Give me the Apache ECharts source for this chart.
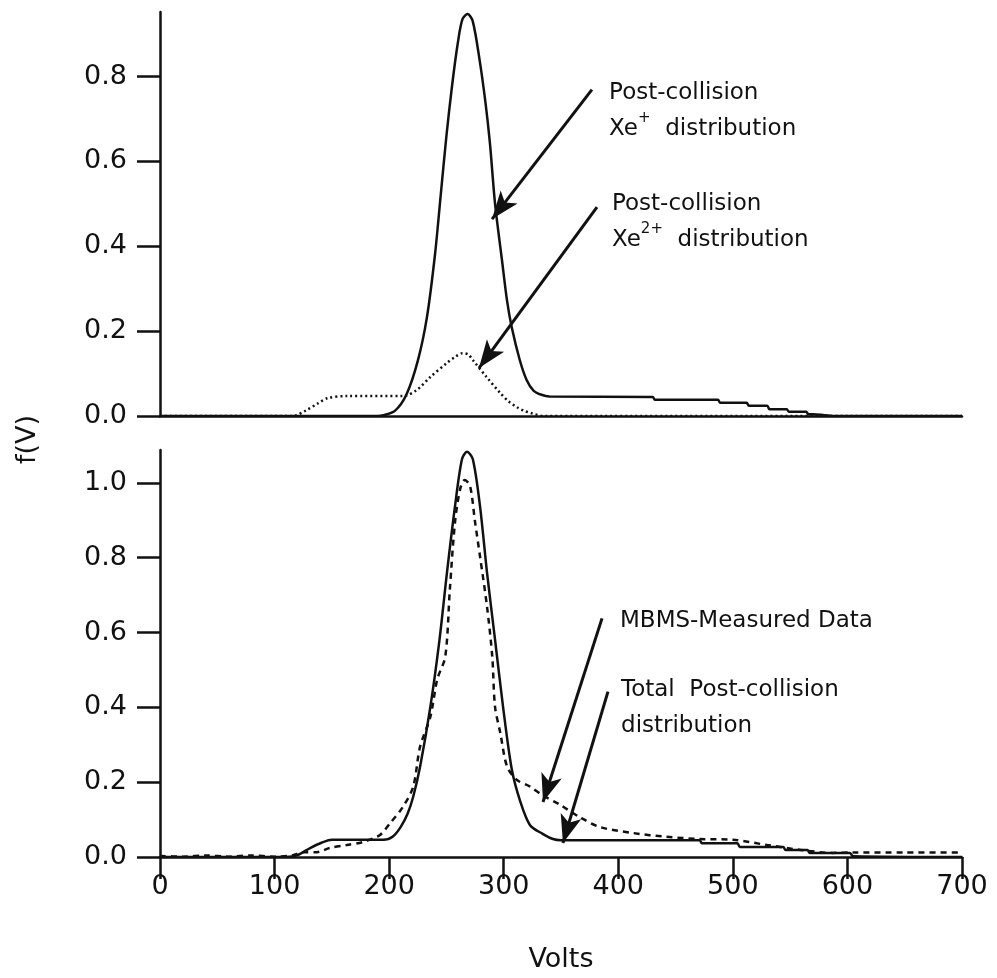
<!DOCTYPE html>
<html>
<head>
<meta charset="utf-8">
<script src="https://cdn.jsdelivr.net/npm/echarts@6/dist/echarts.min.js"></script>
<style>
html, body { margin: 0; background: #fff; }
#chart { width: 997px; height: 978px; }
</style>
</head>
<body>
<div id="chart"></div>
<script>
// top panel: post-collision Xe+ (solid) and Xe2+ (dotted)
const xePlusV = [0, 100, 190, 195, 205, 215, 225, 233, 240, 245, 250, 255, 260, 264, 268.5, 273, 279, 284, 288, 292.4, 298.5, 303, 307, 314, 320, 326, 333, 340, 430, 432, 487, 489, 512, 514, 530, 532, 547, 549, 564, 566, 570, 580, 590, 700]
const xePlusF = [0, 0, 0, 0.002, 0.012, 0.05, 0.13, 0.233, 0.38, 0.52, 0.66, 0.78, 0.88, 0.935, 0.947, 0.93, 0.838, 0.74, 0.642, 0.501, 0.367, 0.27, 0.209, 0.132, 0.085, 0.06, 0.05, 0.046, 0.045, 0.038, 0.038, 0.031, 0.031, 0.024, 0.024, 0.016, 0.016, 0.01, 0.01, 0.004, 0.004, 0.002, 0, 0]
const xe2PlusV = [0, 116, 128, 138, 146, 163, 212, 224, 236, 250, 258, 264, 269, 273, 285, 297, 304, 312, 318, 325, 335, 700]
const xe2PlusF = [0, 0, 0.014, 0.03, 0.042, 0.047, 0.047, 0.061, 0.092, 0.124, 0.14, 0.148, 0.145, 0.132, 0.092, 0.054, 0.035, 0.02, 0.012, 0.006, 0, 0]

// bottom panel: total post-collision (solid) and MBMS-measured (dashed)
const totalV = [0, 110, 120, 131, 141, 150, 195, 203, 210, 216, 221, 227, 236, 244, 250.5, 257.5, 263.6, 268, 273, 279.3, 285.4, 292.4, 299.4, 307, 314, 323, 334, 343, 350, 471, 473, 504, 506, 544, 546, 565, 567, 602, 605, 700]
const totalF = [0, 0, 0.005, 0.024, 0.038, 0.046, 0.046, 0.054, 0.08, 0.115, 0.161, 0.241, 0.402, 0.582, 0.761, 0.938, 1.064, 1.083, 1.064, 0.938, 0.761, 0.582, 0.402, 0.235, 0.153, 0.085, 0.062, 0.048, 0.045, 0.045, 0.037, 0.037, 0.027, 0.027, 0.019, 0.019, 0.011, 0.011, 0.002, 0]
const mbmsV = [0, 20, 40, 60, 80, 100, 115, 125, 137, 148, 163, 177, 192, 201, 212, 221, 227, 236, 242, 249, 253, 257.5, 262, 266, 270.6, 275, 279.3, 285.4, 290, 292.4, 297, 303, 311.6, 323, 334, 349, 366, 384, 413, 442, 471, 500, 530, 559, 587, 605, 650, 700]
const mbmsF = [0.003, 0.001, 0.004, 0.001, 0.004, 0.001, 0.004, 0.013, 0.013, 0.024, 0.032, 0.04, 0.059, 0.091, 0.134, 0.188, 0.295, 0.375, 0.475, 0.536, 0.716, 0.895, 0.984, 1.008, 0.992, 0.895, 0.804, 0.67, 0.536, 0.402, 0.332, 0.241, 0.206, 0.188, 0.165, 0.14, 0.107, 0.08, 0.064, 0.054, 0.048, 0.046, 0.032, 0.019, 0.011, 0.012, 0.012, 0.012]

const xTicks = [0, 100, 200, 300, 400, 500, 600, 700]
const topYTicks = [0, 0.2, 0.4, 0.6, 0.8]
const bottomYTicks = [0, 0.2, 0.4, 0.6, 0.8, 1.0]

const FONT = 'DejaVu Sans'
const INK = '#111'

const pairs = (xs, ys) => xs.map((x, i) => [x, ys[i]])

// arrows: [from, to] in data coords
const arrow = (from, to) => [{ coord: from }, { coord: to }]
const arrowStyle = {
  silent: true,
  symbol: ['none', 'arrow'],
  symbolSize: [16, 28],
  label: { show: false },
  lineStyle: { color: INK, width: 3, type: 'solid' },
  emphasis: { disabled: true }
}
const note = (coord, text) => ({
  coord: coord,
  symbol: 'circle',
  symbolSize: 0,
  label: {
    show: true,
    position: 'right',
    distance: 0,
    formatter: text,
    color: INK,
    fontFamily: FONT,
    fontSize: 23,
    lineHeight: 36,
    rich: {
      sup: { fontSize: 15, fontFamily: FONT, color: INK, verticalAlign: 'top', lineHeight: 36 }
    }
  }
})

const yAxisBase = {
  type: 'value',
  min: 0,
  axisLine: { show: true, lineStyle: { color: INK, width: 2.5 } },
  axisTick: { show: true, length: 23, lineStyle: { color: INK, width: 2.5 } },
  axisLabel: { color: INK, fontFamily: FONT, fontSize: 27, margin: 33, formatter: v => v.toFixed(1) },
  splitLine: { show: false }
}

const lineBase = { type: 'line', showSymbol: false, smooth: 0.3 }

const chart = echarts.init(document.getElementById('chart'))
chart.setOption({
  animation: false,
  backgroundColor: '#fff',
  grid: [
    { left: 160, right: 35, top: 12, height: 404 },
    { left: 160, right: 35, top: 450, height: 407 }
  ],
  xAxis: [
    {
      gridIndex: 0, type: 'value', min: 0, max: 700, interval: 100,
      axisLine: { show: true, onZero: false, lineStyle: { color: INK, width: 2.5 } },
      axisTick: { show: false },
      axisLabel: { show: false },
      splitLine: { show: false }
    },
    {
      gridIndex: 1, type: 'value', min: 0, max: 700, interval: 100,
      name: 'Volts', nameLocation: 'middle', nameGap: 89,
      nameTextStyle: { color: INK, fontFamily: FONT, fontSize: 27 },
      axisLine: { show: true, onZero: false, lineStyle: { color: INK, width: 2.5 } },
      axisTick: { show: true, length: 22, customValues: xTicks, lineStyle: { color: INK, width: 2.5 } },
      axisLabel: { color: INK, fontFamily: FONT, fontSize: 27, margin: 16, customValues: xTicks },
      splitLine: { show: false }
    }
  ],
  yAxis: [
    Object.assign({}, yAxisBase, {
      gridIndex: 0, max: 0.952,
      axisTick: Object.assign({}, yAxisBase.axisTick, { customValues: topYTicks }),
      axisLabel: Object.assign({}, yAxisBase.axisLabel, { customValues: topYTicks })
    }),
    Object.assign({}, yAxisBase, {
      gridIndex: 1, max: 1.088,
      axisTick: Object.assign({}, yAxisBase.axisTick, { customValues: bottomYTicks }),
      axisLabel: Object.assign({}, yAxisBase.axisLabel, { customValues: bottomYTicks })
    })
  ],
  graphic: [{
    type: 'text',
    left: 14,
    top: 415,
    rotation: Math.PI / 2,
    style: { text: 'f(V)', fill: INK, font: '27px "DejaVu Sans"' }
  }],
  series: [
    Object.assign({}, lineBase, {
      name: 'Xe+', xAxisIndex: 0, yAxisIndex: 0,
      data: pairs(xePlusV, xePlusF),
      lineStyle: { color: INK, width: 2.5 },
      markLine: Object.assign({}, arrowStyle, { data: [arrow([377, 0.769], [289.8, 0.464])] }),
      markPoint: { silent: true, data: [note([392, 0.719], 'Post-collision\nXe{sup|+}  distribution')] }
    }),
    Object.assign({}, lineBase, {
      name: 'Xe2+', xAxisIndex: 0, yAxisIndex: 0,
      data: pairs(xe2PlusV, xe2PlusF),
      lineStyle: { color: INK, width: 2.5, type: [2, 3] },
      markLine: Object.assign({}, arrowStyle, { data: [arrow([381.4, 0.492], [278.4, 0.113])] }),
      markPoint: { silent: true, data: [note([394.5, 0.458], 'Post-collision\nXe{sup|2+}  distribution')] }
    }),
    Object.assign({}, lineBase, {
      name: 'Total', xAxisIndex: 1, yAxisIndex: 1,
      data: pairs(totalV, totalF),
      lineStyle: { color: INK, width: 2.5 },
      markLine: Object.assign({}, arrowStyle, { data: [arrow([391, 0.442], [351.7, 0.0375])] }),
      markPoint: { silent: true, data: [note([402.4, 0.398], 'Total  Post-collision\ndistribution')] }
    }),
    Object.assign({}, lineBase, {
      name: 'MBMS', xAxisIndex: 1, yAxisIndex: 1,
      data: pairs(mbmsV, mbmsF),
      lineStyle: { color: INK, width: 2.5, type: [6, 5] },
      markLine: Object.assign({}, arrowStyle, { data: [arrow([385.8, 0.638], [334.3, 0.147])] }),
      markPoint: { silent: true, data: [note([401.5, 0.63], 'MBMS-Measured Data')] }
    })
  ]
})
</script>
</body>
</html>
